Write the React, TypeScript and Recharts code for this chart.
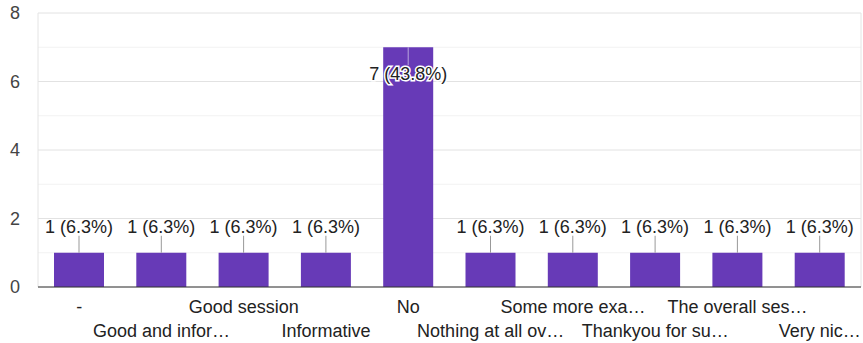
import React from 'react';
import { BarChart, Bar, XAxis, YAxis, CartesianGrid, LabelList } from 'recharts';

const answers = [
  '-',
  'Good and infor…',
  'Good session',
  'Informative',
  'No',
  'Nothing at all ov…',
  'Some more exa…',
  'Thankyou for su…',
  'The overall ses…',
  'Very nic…',
];
const counts = [1, 1, 1, 1, 7, 1, 1, 1, 1, 1];
const totalResponses = 16;
const yTicks = [0, 1, 2, 3, 4, 5, 6, 7, 8];

const data = answers.map((name, i) => ({ name, count: counts[i] }));

const FONT = '"Liberation Sans", Arial, sans-serif';
const FS = 18;

const XTick = (props: any) => {
  const { x, y, payload, index } = props;
  const dy = index % 2 === 0 ? 18 : 42;
  return (
    <text x={x} y={y + dy} textAnchor="middle" fontSize={FS} fill="#222" fontFamily={FONT}>
      {payload.value}
    </text>
  );
};

const YTick = (props: any) => {
  const { x, y, payload } = props;
  if (payload.value % 2 !== 0) return null;
  return (
    <text x={x} y={y + 6} textAnchor="end" fontSize={FS} fill="#444" fontFamily={FONT}>
      {payload.value}
    </text>
  );
};

const GridLine = (props: any) => {
  const { x1, y1, x2, y2, index } = props;
  const major = index % 2 === 0;
  return <line x1={x1} y1={y1} x2={x2} y2={y2} stroke={major ? '#e2e2e2' : '#f2f2f2'} strokeWidth={1} />;
};

const ValueLabel = (props: any) => {
  const { x, y, width, height, value } = props;
  const cx = x + width / 2;
  const pct = ((value / totalResponses) * 100).toFixed(1);
  const text = `${value} (${pct}%)`;
  if (height > 100) {
    return (
      <g>
        <line x1={cx} y1={y} x2={cx} y2={y + 18} stroke="#b9a6dd" strokeWidth={1} />
        <text
          x={cx}
          y={y + 33}
          textAnchor="middle"
          fontSize={FS}
          fill="#222"
          fontFamily={FONT}
          stroke="#fff"
          strokeWidth={3}
          paintOrder="stroke"
        >
          {text}
        </text>
      </g>
    );
  }
  return (
    <g>
      <line x1={cx} y1={y - 17} x2={cx} y2={y} stroke="#999" strokeWidth={1} />
      <text x={cx} y={y - 20} textAnchor="middle" fontSize={FS} fill="#222" fontFamily={FONT}>
        {text}
      </text>
    </g>
  );
};

export default function App() {
  return (
    <div style={{ position: 'absolute', left: 0, top: 0, background: '#fff' }}>
      <BarChart
        width={863}
        height={343}
        data={data}
        margin={{ top: 13, right: 2, left: 0, bottom: 0 }}
        barCategoryGap={16}
      >
        <CartesianGrid
          stroke="#e4e4e4"
          horizontal={<GridLine />}
          verticalPoints={[38, 861]}
        />
        <XAxis
          dataKey="name"
          height={56}
          interval={0}
          tickLine={false}
          axisLine={{ stroke: '#333' }}
          tick={<XTick />}
        />
        <YAxis
          width={38}
          domain={[0, 8]}
          ticks={yTicks}
          interval={0}
          axisLine={false}
          tickLine={false}
          tickSize={0}
          tickMargin={18}
          tick={<YTick />}
        />
        <Bar dataKey="count" fill="#673ab7" isAnimationActive={false}>
          <LabelList dataKey="count" content={<ValueLabel />} />
        </Bar>
      </BarChart>
    </div>
  );
}
